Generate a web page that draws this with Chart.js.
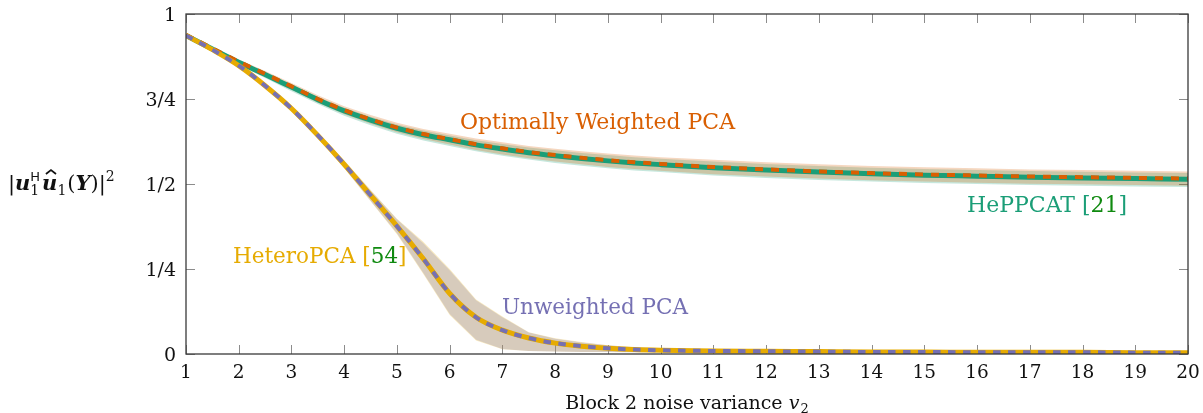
<!DOCTYPE html>
<html>
<head>
<meta charset="utf-8">
<script src="https://cdn.jsdelivr.net/npm/chart.js@4.4.1/dist/chart.umd.min.js"></script>
<style>
  html, body { margin: 0; padding: 0; background: #ffffff; }
  #wrap { width: 1203px; height: 413px; }
</style>
</head>
<body>
<div id="wrap"><canvas id="c" width="1203" height="413"></canvas></div>
<script>
// Block 2 noise variance (x axis)
const noiseVariance = [1, 1.5, 2, 2.5, 3, 3.5, 4, 4.5, 5, 5.5, 6, 6.5, 7, 7.5, 8, 8.5, 9, 9.5, 10, 11, 12, 13, 14, 15, 16, 17, 18, 19, 20];

// HePPCAT: mean recovery and spread
const heppcatMean = [0.937, 0.897, 0.858, 0.822, 0.785, 0.748, 0.715, 0.688, 0.664, 0.645, 0.630, 0.615, 0.603, 0.592, 0.583, 0.575, 0.568, 0.562, 0.557, 0.548, 0.541, 0.535, 0.530, 0.526, 0.523, 0.520, 0.518, 0.516, 0.514];
const heppcatLow  = [0.932, 0.891, 0.850, 0.812, 0.773, 0.735, 0.701, 0.673, 0.648, 0.628, 0.612, 0.596, 0.583, 0.572, 0.562, 0.554, 0.546, 0.540, 0.535, 0.525, 0.518, 0.512, 0.507, 0.503, 0.500, 0.497, 0.495, 0.493, 0.491];
const heppcatHigh = [0.937, 0.898, 0.861, 0.827, 0.792, 0.756, 0.724, 0.698, 0.675, 0.657, 0.643, 0.629, 0.618, 0.607, 0.599, 0.591, 0.585, 0.579, 0.574, 0.566, 0.559, 0.553, 0.548, 0.544, 0.541, 0.538, 0.536, 0.534, 0.532];

// Optimally weighted PCA
const owpcaMean = [0.939, 0.899, 0.860, 0.824, 0.787, 0.750, 0.717, 0.690, 0.666, 0.647, 0.632, 0.617, 0.605, 0.594, 0.585, 0.577, 0.570, 0.564, 0.559, 0.550, 0.543, 0.537, 0.532, 0.528, 0.525, 0.522, 0.520, 0.518, 0.516];
const owpcaLow  = [0.936, 0.895, 0.854, 0.816, 0.777, 0.739, 0.705, 0.677, 0.652, 0.632, 0.616, 0.600, 0.587, 0.576, 0.566, 0.558, 0.550, 0.544, 0.539, 0.529, 0.522, 0.516, 0.511, 0.507, 0.504, 0.501, 0.499, 0.497, 0.495];
const owpcaHigh = [0.942, 0.903, 0.866, 0.832, 0.797, 0.761, 0.729, 0.703, 0.680, 0.662, 0.648, 0.634, 0.623, 0.612, 0.604, 0.596, 0.590, 0.584, 0.579, 0.571, 0.564, 0.558, 0.553, 0.549, 0.546, 0.543, 0.541, 0.539, 0.537];

// HeteroPCA
const heteroMean = [0.937, 0.895, 0.848, 0.789, 0.722, 0.643, 0.558, 0.467, 0.376, 0.280, 0.178, 0.108, 0.070, 0.047, 0.032, 0.023, 0.017, 0.013, 0.011, 0.009, 0.008, 0.007, 0.006, 0.006, 0.005, 0.005, 0.005, 0.004, 0.004];
const heteroLow  = [0.934, 0.891, 0.843, 0.783, 0.715, 0.634, 0.546, 0.449, 0.352, 0.235, 0.115, 0.040, 0.014, 0.009, 0.007, 0.006, 0.006, 0.005, 0.005, 0.004, 0.004, 0.003, 0.003, 0.003, 0.003, 0.002, 0.002, 0.002, 0.002];
const heteroHigh = [0.940, 0.899, 0.853, 0.795, 0.729, 0.651, 0.570, 0.483, 0.398, 0.330, 0.250, 0.160, 0.110, 0.064, 0.046, 0.035, 0.026, 0.020, 0.016, 0.013, 0.011, 0.010, 0.009, 0.008, 0.008, 0.007, 0.007, 0.007, 0.006];

// Unweighted PCA
const pcaMean = [0.937, 0.895, 0.848, 0.789, 0.722, 0.643, 0.558, 0.467, 0.376, 0.280, 0.178, 0.108, 0.070, 0.047, 0.032, 0.023, 0.017, 0.013, 0.011, 0.009, 0.008, 0.007, 0.006, 0.006, 0.005, 0.005, 0.005, 0.004, 0.004];
const pcaLow  = [0.934, 0.891, 0.844, 0.784, 0.716, 0.635, 0.548, 0.451, 0.355, 0.238, 0.118, 0.042, 0.015, 0.009, 0.007, 0.006, 0.006, 0.005, 0.005, 0.004, 0.004, 0.003, 0.003, 0.003, 0.003, 0.002, 0.002, 0.002, 0.002];
const pcaHigh = [0.940, 0.899, 0.852, 0.794, 0.728, 0.650, 0.568, 0.481, 0.396, 0.326, 0.246, 0.158, 0.108, 0.063, 0.045, 0.034, 0.026, 0.020, 0.016, 0.013, 0.011, 0.010, 0.009, 0.008, 0.008, 0.007, 0.007, 0.007, 0.006];

// Axis ticks
const xTickValues = [1, 2, 3, 4, 5, 6, 7, 8, 9, 10, 11, 12, 13, 14, 15, 16, 17, 18, 19, 20];
const yTickValues = [0, 0.25, 0.5, 0.75, 1];
const yTickLabels = ['0', '1/4', '1/2', '3/4', '1'];

const COLORS = {
  green: '#1b9e77',
  orange: '#d95f02',
  purple: '#7570b3',
  yellow: '#e6ab02',
  cite: '#108a10'
};

const SERIF = '"DejaVu Serif", "Liberation Serif", serif';

const pts = arr => noiseVariance.map((x, i) => ({ x: x, y: arr[i] }));

function band(hi, lo, color, order) {
  return [
    { data: pts(hi), fill: '+1', backgroundColor: color, borderWidth: 0, pointRadius: 0, tension: 0, order: order },
    { data: pts(lo), fill: false, borderWidth: 0, pointRadius: 0, tension: 0, order: order }
  ];
}

function line(arr, color, width, dash, order) {
  return {
    data: pts(arr), fill: false, borderColor: color, borderWidth: width,
    borderDash: dash, borderCapStyle: 'butt', borderJoinStyle: 'round',
    pointRadius: 0, cubicInterpolationMode: 'monotone', order: order
  };
}

const datasets = [
  ...band(heppcatHigh, heppcatLow, 'rgba(27,158,119,0.25)', 20),
  ...band(owpcaHigh, owpcaLow, 'rgba(217,95,2,0.25)', 19),
  ...band(heteroHigh, heteroLow, 'rgba(230,171,2,0.25)', 18),
  ...band(pcaHigh, pcaLow, 'rgba(117,112,179,0.25)', 17),
  line(heppcatMean, COLORS.green, 5, [], 10),
  line(owpcaMean, COLORS.orange, 4, [8, 8], 9),
  line(heteroMean, COLORS.yellow, 5, [], 8),
  line(pcaMean, COLORS.purple, 4, [7.5, 7.5], 7)
];

// Multi-colour text run: [[text, color, font], ...]
function drawRun(ctx, x, y, parts) {
  let cx = x;
  parts.forEach(p => {
    ctx.font = p[2];
    ctx.fillStyle = p[1];
    ctx.fillText(p[0], cx, y);
    cx += ctx.measureText(p[0]).width;
  });
  return cx;
}

const axesPlugin = {
  id: 'pgfAxes',
  beforeDatasetsDraw(chart) {
    const { ctx, chartArea: a, scales } = chart;
    const tl = 9;
    ctx.save();
    ctx.strokeStyle = '#8c8c8c';
    ctx.lineWidth = 1;
    ctx.beginPath();
    xTickValues.forEach(v => {
      const px = Math.round(scales.x.getPixelForValue(v)) + 0.5;
      ctx.moveTo(px, a.bottom); ctx.lineTo(px, a.bottom - tl);
      ctx.moveTo(px, a.top); ctx.lineTo(px, a.top + tl);
    });
    yTickValues.forEach(v => {
      const py = Math.round(scales.y.getPixelForValue(v)) + 0.5;
      ctx.moveTo(a.left, py); ctx.lineTo(a.left + tl, py);
      ctx.moveTo(a.right, py); ctx.lineTo(a.right - tl, py);
    });
    ctx.stroke();
    ctx.restore();
  },
  afterDatasetsDraw(chart) {
    const { ctx, chartArea: a, scales } = chart;
    ctx.save();
    // frame
    ctx.strokeStyle = '#3a3a3a';
    ctx.lineWidth = 1.3;
    ctx.strokeRect(a.left, a.top, a.right - a.left, a.bottom - a.top);

    // tick labels
    ctx.fillStyle = '#111';
    ctx.font = '18.5px ' + SERIF;
    ctx.textAlign = 'center';
    ctx.textBaseline = 'alphabetic';
    xTickValues.forEach(v => {
      ctx.fillText(String(v), scales.x.getPixelForValue(v), a.bottom + 24);
    });
    ctx.font = '19px ' + SERIF;
    ctx.textAlign = 'right';
    yTickValues.forEach((v, i) => {
      ctx.fillText(yTickLabels[i], a.left - 10, scales.y.getPixelForValue(v) + 6.5);
    });

    // x axis title
    ctx.textAlign = 'left';
    const fN = '19px ' + SERIF;
    const fI = 'italic 19px ' + SERIF;
    const fS = '13px ' + SERIF;
    ctx.font = fN; const w1 = ctx.measureText('Block 2 noise variance ').width;
    ctx.font = fI; const w2 = ctx.measureText('v').width;
    ctx.font = fS; const w3 = ctx.measureText('2').width;
    const cx = (a.left + a.right) / 2;
    let x0 = cx - (w1 + w2 + w3 + 1) / 2;
    const by = 409;
    ctx.fillStyle = '#111';
    ctx.font = fN; ctx.fillText('Block 2 noise variance ', x0, by);
    ctx.font = fI; ctx.fillText('v', x0 + w1, by);
    ctx.font = fS; ctx.fillText('2', x0 + w1 + w2 + 1, by + 4);

    // y axis label |u_1^H \hat u_1(Y)|^2
    const yb = 190;
    const nF = '21px ' + SERIF;
    const bi = 'italic bold 21px ' + SERIF;
    const sF = '14px ' + SERIF;
    const hF = '13px "DejaVu Sans", sans-serif';
    let x = 8;
    ctx.fillStyle = '#111';
    const put = (t, f, dy) => { ctx.font = f; ctx.fillText(t, x, yb + (dy || 0)); return ctx.measureText(t).width; };
    x += put('|', nF);
    x += put('u', bi);
    const xs = x;
    const wH = put('H', hF, -9);
    const w1s = put('1', sF, 5);
    x = xs + Math.max(wH, w1s) + 2;
    ctx.font = bi;
    const uw = ctx.measureText('u').width;
    const ux = x;
    x += put('u', bi);
    // hat over u
    ctx.beginPath();
    ctx.moveTo(ux + uw * 0.25, yb - 16);
    ctx.lineTo(ux + uw * 0.58, yb - 20);
    ctx.lineTo(ux + uw * 0.91, yb - 16);
    ctx.lineWidth = 1.7;
    ctx.strokeStyle = '#111';
    ctx.stroke();
    x += put('1', sF, 5);
    x += 1;
    x += put('(', nF);
    x += put('Y', bi);
    x += put(')', nF);
    x += put('|', nF);
    put('2', sF, -9);

    // curve labels
    drawRun(ctx, 460, 129, [['Optimally Weighted PCA', COLORS.orange, '22px ' + SERIF]]);
    drawRun(ctx, 967, 212, [['HePPCAT [', COLORS.green, '22px ' + SERIF], ['21', COLORS.cite, '22px ' + SERIF], [']', COLORS.green, '22px ' + SERIF]]);
    drawRun(ctx, 233, 263, [['HeteroPCA [', COLORS.yellow, '21.5px ' + SERIF], ['54', COLORS.cite, '21.5px ' + SERIF], [']', COLORS.yellow, '21.5px ' + SERIF]]);
    drawRun(ctx, 502, 314, [['Unweighted PCA', COLORS.purple, '21.5px ' + SERIF]]);
    ctx.restore();
  }
};

new Chart(document.getElementById('c'), {
  type: 'line',
  data: { datasets: datasets },
  options: {
    responsive: false,
    animation: false,
    events: [],
    layout: { padding: { top: 14, right: 15, left: 0, bottom: 0 } },
    plugins: { legend: { display: false }, tooltip: { enabled: false }, filler: { propagate: false } },
    scales: {
      x: {
        type: 'linear', min: 1, max: 20,
        grid: { display: false }, border: { display: false },
        ticks: { display: false, stepSize: 1 },
        afterFit: s => { s.height = 59; }
      },
      y: {
        type: 'linear', min: 0, max: 1,
        grid: { display: false }, border: { display: false },
        ticks: { display: false },
        afterFit: s => { s.width = 186; }
      }
    }
  },
  plugins: [axesPlugin]
});
</script>
</body>
</html>
